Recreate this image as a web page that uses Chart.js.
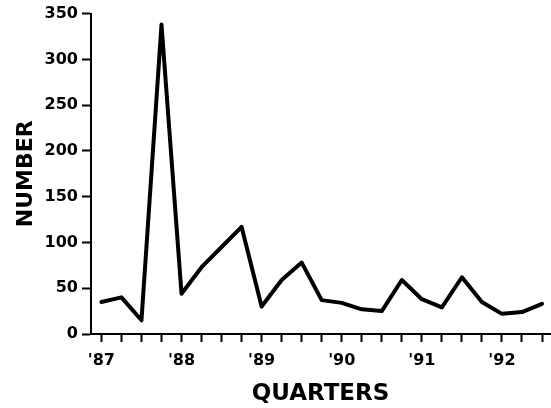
<!DOCTYPE html>
<html>
<head>
<meta charset="utf-8">
<script src="https://cdn.jsdelivr.net/npm/chart.js@4"></script>
<style>
html,body{margin:0;padding:0;background:#fff;}
#wrap{width:551px;height:408px;}
</style>
</head>
<body>
<div id="wrap"><canvas id="c" width="551" height="408"></canvas></div>
<script>
// Quarterly counts, 1987 Q1 .. 1992 Q3
const quarterIndex = [0,1,2,3,4,5,6,7,8,9,10,11,12,13,14,15,16,17,18,19,20,21,22];
const counts = [35,40,15,338,44,73,95,117,30,59,78,37,34,27,25,59,38,29,62,35,22,24,33];
const yearLabels = ["'87","'88","'89","'90","'91","'92"];
const yTicks = [0,50,100,150,200,250,300,350];

const points = quarterIndex.map((q,i)=>({x:q,y:counts[i]}));
const FONT = "'DejaVu Sans', sans-serif";

new Chart(document.getElementById('c'), {
  type: 'line',
  data: { datasets: [{
    data: points,
    borderColor: '#000',
    borderWidth: 4,
    borderJoinStyle: 'round',
    borderCapStyle: 'round',
    pointRadius: 0,
    tension: 0,
    fill: false
  }]},
  options: {
    responsive: false,
    animation: false,
    layout: { padding: { top: 12, right: 0, bottom: 0, left: 0 } },
    plugins: { legend: { display: false }, tooltip: { enabled: false } },
    scales: {
      x: {
        type: 'linear',
        min: -0.52,
        max: 22.4,
        afterBuildTicks: s => { s.ticks = quarterIndex.map(v => ({value: v})); },
        afterFit: s => { s.height = 74; },
        border: { display: true, color: '#000', width: 2 },
        grid: { display: true, drawOnChartArea: false, drawTicks: true, tickLength: 8, tickColor: '#000', tickWidth: 2 },
        ticks: {
          autoSkip: false, maxRotation: 0, padding: 9, color: '#000',
          font: { family: FONT, weight: 'bold', size: 16 },
          callback: v => (v % 4 === 0 ? yearLabels[v / 4] : '')
        },
        title: { display: true, text: 'QUARTERS', color: '#000',
          font: { family: FONT, weight: 'bold', size: 23 }, padding: { top: 0, bottom: 0 } }
      },
      y: {
        type: 'linear',
        min: 0,
        max: 350,
        afterBuildTicks: s => { s.ticks = yTicks.map(v => ({value: v})); },
        afterFit: s => { s.width = 91; },
        border: { display: true, color: '#000', width: 2 },
        grid: { display: true, drawOnChartArea: false, drawTicks: true, tickLength: 9, tickColor: '#000', tickWidth: 2 },
        ticks: { padding: 4, color: '#000', font: { family: FONT, weight: 'bold', size: 16 } },
        title: { display: true, text: 'NUMBER', color: '#000',
          font: { family: FONT, weight: 'bold', size: 22 }, padding: { top: 13, bottom: 0 } }
      }
    }
  }
});
</script>
</body>
</html>
